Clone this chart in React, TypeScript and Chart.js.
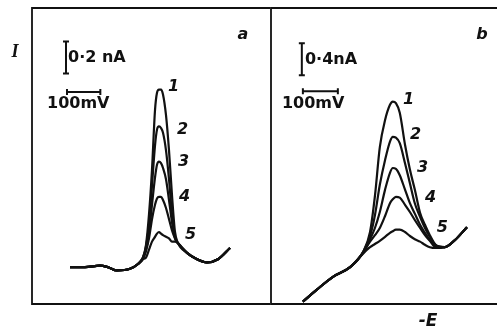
import React, { useEffect, useRef } from "react";
import { Chart, registerables } from "chart.js";

Chart.register(...registerables);

// ---------- Panel a (scale 0.2 nA) : potential (mV, arbitrary origin), current (nA) ----------
const potentialA = [114, 159, 204, 228, 255, 294, 318, 333, 342, 351, 360, 369, 375, 381, 387, 393, 402, 411, 420, 429, 438, 465, 495, 525, 558, 594];
const currentA1 = [0.23, 0.23, 0.24, 0.23, 0.21, 0.22, 0.25, 0.29, 0.37, 0.56, 0.84, 1.21, 1.32, 1.34, 1.34, 1.31, 1.18, 0.96, 0.68, 0.45, 0.38, 0.32, 0.28, 0.26, 0.28, 0.35];
const currentA2 = [0.23, 0.23, 0.24, 0.23, 0.21, 0.22, 0.25, 0.29, 0.36, 0.49, 0.74, 0.99, 1.09, 1.11, 1.1, 1.07, 0.96, 0.78, 0.56, 0.42, 0.38, 0.32, 0.28, 0.26, 0.28, 0.35];
const currentA3 = [0.23, 0.23, 0.24, 0.23, 0.21, 0.22, 0.25, 0.29, 0.34, 0.44, 0.62, 0.79, 0.87, 0.89, 0.88, 0.85, 0.78, 0.65, 0.51, 0.41, 0.38, 0.32, 0.28, 0.26, 0.28, 0.35];
const currentA4 = [0.23, 0.23, 0.24, 0.23, 0.21, 0.22, 0.25, 0.28, 0.33, 0.41, 0.53, 0.62, 0.66, 0.67, 0.67, 0.65, 0.6, 0.53, 0.46, 0.41, 0.38, 0.32, 0.28, 0.26, 0.28, 0.35];
const currentA5 = [0.23, 0.23, 0.24, 0.23, 0.21, 0.22, 0.25, 0.28, 0.29, 0.34, 0.39, 0.42, 0.44, 0.45, 0.44, 0.43, 0.42, 0.41, 0.39, 0.39, 0.38, 0.32, 0.28, 0.26, 0.28, 0.35];
const curveLabelsA = ["1", "2", "3", "4", "5"];
const labelPosXA = [408, 435, 438, 441, 459];
const labelPosYA = [1.36, 1.09, 0.89, 0.67, 0.43];

// ---------- Panel b (scale 0.4 nA) ----------
const potentialB = [94, 134, 180, 229, 266, 286, 300, 314, 329, 343, 351, 360, 371, 386, 400, 414, 429, 443, 457, 474, 500, 529, 563];
const currentB1 = [0.03, 0.18, 0.34, 0.46, 0.65, 0.9, 1.35, 1.96, 2.3, 2.49, 2.53, 2.51, 2.39, 1.99, 1.68, 1.43, 1.14, 0.99, 0.86, 0.74, 0.71, 0.8, 0.96];
const currentB2 = [0.03, 0.18, 0.34, 0.46, 0.65, 0.85, 1.11, 1.49, 1.8, 2.03, 2.09, 2.08, 2.01, 1.76, 1.51, 1.26, 1.09, 0.95, 0.84, 0.73, 0.71, 0.8, 0.96];
const currentB3 = [0.03, 0.18, 0.34, 0.46, 0.64, 0.81, 0.95, 1.15, 1.43, 1.64, 1.7, 1.69, 1.61, 1.43, 1.26, 1.13, 0.99, 0.89, 0.8, 0.73, 0.71, 0.8, 0.96];
const currentB4 = [0.03, 0.18, 0.34, 0.46, 0.64, 0.78, 0.86, 0.95, 1.1, 1.26, 1.31, 1.34, 1.33, 1.24, 1.15, 1.05, 0.95, 0.86, 0.79, 0.71, 0.71, 0.8, 0.96];
const currentB5 = [0.03, 0.18, 0.34, 0.46, 0.63, 0.71, 0.75, 0.79, 0.84, 0.89, 0.91, 0.93, 0.93, 0.9, 0.85, 0.81, 0.78, 0.74, 0.71, 0.7, 0.71, 0.8, 0.96];
const curveLabelsB = ["1", "2", "3", "4", "5"];
const labelPosXB = [380, 400, 420, 443, 477];
const labelPosYB = [2.55, 2.11, 1.7, 1.33, 0.95];

const SCALE_TEXT_A = "0·2 nA";
const SCALE_TEXT_B = "0·4nA";
const MV_TEXT = "100mV";
const Y_TITLE = "I";
const X_TITLE = "-E";

const INK = "#111";

function toPoints(xs: number[], ys: number[]) {
  return xs.map((x, i) => ({ x, y: ys[i] }));
}

function makeDatasets(xs: number[], series: number[][]) {
  return series.map((ys, i) => ({
    label: String(i + 1),
    data: toPoints(xs, ys),
    borderColor: INK,
    borderWidth: 2.2,
    pointRadius: 0,
    fill: false,
    cubicInterpolationMode: "monotone" as const,
  }));
}

type Deco = {
  panel: "a" | "b";
  labels: string[];
  lx: number[];
  ly: number[];
  vBar: { x: number; y0: number; y1: number; text: string; tx: number; ty: number };
  hBar: { x0: number; x1: number; y: number; tx: number; ty: number };
};

function decoPlugin(d: Deco) {
  return {
    id: "deco" + d.panel,
    afterDraw(chart: any) {
      const { ctx, chartArea, scales, width } = chart;
      const X = (v: number) => scales.x.getPixelForValue(v);
      const Y = (v: number) => scales.y.getPixelForValue(v);
      ctx.save();
      ctx.strokeStyle = INK;
      ctx.fillStyle = INK;
      ctx.lineWidth = 1.8;
      ctx.beginPath();
      if (d.panel === "a") {
        ctx.moveTo(chartArea.right, chartArea.top);
        ctx.lineTo(chartArea.left, chartArea.top);
        ctx.lineTo(chartArea.left, chartArea.bottom);
        ctx.lineTo(chartArea.right, chartArea.bottom);
      } else {
        ctx.moveTo(width, chartArea.top);
        ctx.lineTo(chartArea.left + 1, chartArea.top);
        ctx.lineTo(chartArea.left + 1, chartArea.bottom);
        ctx.lineTo(width, chartArea.bottom);
      }
      ctx.stroke();

      // scale bars
      ctx.lineWidth = 2;
      const vx = X(d.vBar.x);
      const vy0 = Y(d.vBar.y0);
      const vy1 = Y(d.vBar.y1);
      ctx.beginPath();
      ctx.moveTo(vx, vy0);
      ctx.lineTo(vx, vy1);
      ctx.moveTo(vx - 3, vy0);
      ctx.lineTo(vx + 3, vy0);
      ctx.moveTo(vx - 3, vy1);
      ctx.lineTo(vx + 3, vy1);
      const hx0 = X(d.hBar.x0);
      const hx1 = X(d.hBar.x1);
      const hy = Y(d.hBar.y);
      ctx.moveTo(hx0, hy);
      ctx.lineTo(hx1, hy);
      ctx.moveTo(hx0, hy - 3);
      ctx.lineTo(hx0, hy + 3);
      ctx.moveTo(hx1, hy - 3);
      ctx.lineTo(hx1, hy + 3);
      ctx.stroke();

      ctx.textBaseline = "middle";
      ctx.textAlign = "left";
      ctx.font = "bold 16px 'DejaVu Sans'";
      ctx.fillText(d.vBar.text, X(d.vBar.tx), Y(d.vBar.ty));
      ctx.fillText(MV_TEXT, X(d.hBar.tx), Y(d.hBar.ty));

      // curve numbers
      ctx.font = "italic bold 16px 'DejaVu Sans'";
      d.labels.forEach((t, i) => {
        ctx.fillText(t, X(d.lx[i]), Y(d.ly[i]));
      });

      // panel letters and axis titles
      ctx.textAlign = "center";
      ctx.font = "italic bold 16px 'DejaVu Sans'";
      if (d.panel === "a") {
        ctx.fillText("a", chartArea.right - 27, chartArea.top + 27);
        ctx.font = "italic bold 18px 'Liberation Serif'";
        ctx.fillText(Y_TITLE, chartArea.left - 17, chartArea.top + 44);
      } else {
        ctx.fillText("b", chartArea.left + 212, chartArea.top + 27);
        ctx.font = "italic bold 17px 'DejaVu Sans'";
        ctx.fillText(X_TITLE, chartArea.left + 158, chartArea.bottom + 18);
      }
      ctx.restore();
    },
  };
}

function buildChart(canvas: HTMLCanvasElement, datasets: any[], xMax: number, yMax: number, padLeft: number, deco: Deco) {
  return new Chart(canvas, {
    type: "line",
    data: { datasets },
    options: {
      animation: false,
      responsive: false,
      devicePixelRatio: 1,
      layout: { padding: { left: padLeft, right: 0, top: 8, bottom: 25 } },
      plugins: { legend: { display: false }, tooltip: { enabled: false } },
      scales: {
        x: { type: "linear", min: 0, max: xMax, display: false },
        y: { type: "linear", min: 0, max: yMax, display: false },
      },
    },
    plugins: [decoPlugin(deco)],
  });
}

export default function App() {
  const refA = useRef<HTMLCanvasElement>(null);
  const refB = useRef<HTMLCanvasElement>(null);

  useEffect(() => {
    const a = buildChart(
      refA.current!,
      makeDatasets(potentialA, [currentA1, currentA2, currentA3, currentA4, currentA5]),
      714,
      1.85,
      32,
      {
        panel: "a",
        labels: curveLabelsA,
        lx: labelPosXA,
        ly: labelPosYA,
        vBar: { x: 102, y0: 1.44, y1: 1.64, text: SCALE_TEXT_A, tx: 108, ty: 1.54 },
        hBar: { x0: 105, x1: 205, y: 1.325, tx: 45, ty: 1.25 },
      }
    );
    const b = buildChart(
      refB.current!,
      makeDatasets(potentialB, [currentB1, currentB2, currentB3, currentB4, currentB5]),
      649,
      3.7,
      0,
      {
        panel: "b",
        labels: curveLabelsB,
        lx: labelPosXB,
        ly: labelPosYB,
        vBar: { x: 91, y0: 2.86, y1: 3.26, text: SCALE_TEXT_B, tx: 100, ty: 3.05 },
        hBar: { x0: 94, x1: 194, y: 2.66, tx: 34, ty: 2.5 },
      }
    );
    return () => {
      a.destroy();
      b.destroy();
    };
  }, []);

  return (
    <div style={{ position: "absolute", left: 0, top: 0, width: 497, height: 329, background: "#fff" }}>
      <canvas ref={refA} width={270} height={329} style={{ position: "absolute", left: 0, top: 0 }} />
      <canvas ref={refB} width={227} height={329} style={{ position: "absolute", left: 270, top: 0 }} />
    </div>
  );
}
